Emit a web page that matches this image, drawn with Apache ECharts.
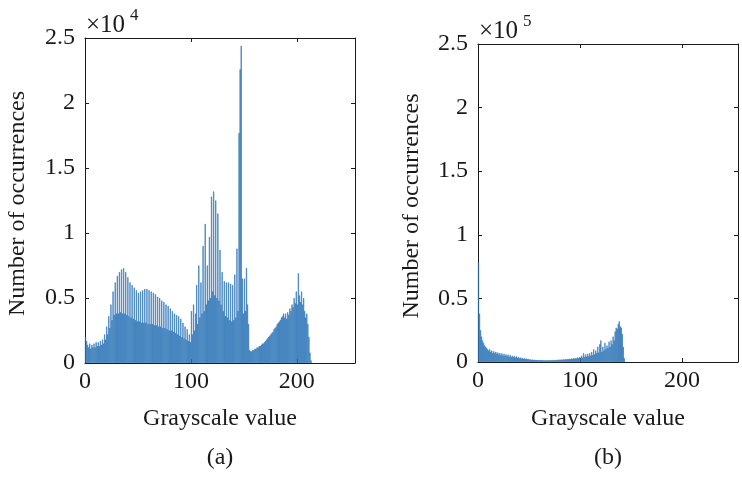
<!DOCTYPE html>
<html>
<head>
<meta charset="utf-8">
<script src="https://cdn.jsdelivr.net/npm/echarts@6/dist/echarts.min.js"></script>
<style>
  html, body { margin: 0; padding: 0; background: #fff; }
  #chart { width: 742px; height: 477px; }
</style>
</head>
<body>
<div id="chart"></div>
<script>
// histogram counts per grayscale bin (bin index = position), in axis units
// (a): x 10^4 occurrences, (b): x 10^5 occurrences
const histA = [
  0.20, 0.17, 0.14, 0.12, 0.15, 0.11, 0.14, 0.12, 0.15, 0.12,
  0.16, 0.13, 0.16, 0.13, 0.17, 0.14, 0.18, 0.15, 0.22, 0.18,
  0.28, 0.22, 0.36, 0.27, 0.45, 0.33, 0.55, 0.37, 0.62, 0.38,
  0.67, 0.38, 0.70, 0.39, 0.72, 0.38, 0.73, 0.38, 0.70, 0.37,
  0.66, 0.36, 0.62, 0.35, 0.60, 0.34, 0.58, 0.33, 0.56, 0.32,
  0.54, 0.32, 0.55, 0.31, 0.56, 0.31, 0.57, 0.31, 0.57, 0.30,
  0.56, 0.30, 0.55, 0.30, 0.54, 0.29, 0.53, 0.29, 0.51, 0.28,
  0.50, 0.28, 0.48, 0.27, 0.47, 0.27, 0.45, 0.26, 0.44, 0.25,
  0.42, 0.25, 0.40, 0.24, 0.38, 0.23, 0.37, 0.22, 0.36, 0.21,
  0.34, 0.20, 0.31, 0.19, 0.28, 0.18, 0.26, 0.17, 0.22, 0.16,
  0.40, 0.22, 0.45, 0.25, 0.38, 0.60, 0.30, 0.75, 0.35, 0.62,
  0.38, 0.90, 0.40, 1.07, 0.45, 0.75, 0.48, 0.97, 0.50, 1.28,
  0.55, 1.32, 0.52, 1.25, 0.50, 1.15, 0.48, 0.87, 0.45, 0.70,
  0.40, 0.63, 0.36, 0.62, 0.35, 0.62, 0.33, 0.61, 0.32, 0.60,
  0.33, 0.68, 0.35, 0.88, 0.40, 1.77, 2.26, 2.44, 0.65, 0.38,
  0.65, 0.40, 0.73, 0.45, 0.30, 0.10, 0.09, 0.09, 0.10, 0.10,
  0.11, 0.11, 0.12, 0.12, 0.13, 0.13, 0.14, 0.15, 0.15, 0.16,
  0.17, 0.18, 0.19, 0.20, 0.21, 0.22, 0.23, 0.24, 0.26, 0.27,
  0.28, 0.30, 0.31, 0.32, 0.33, 0.35, 0.36, 0.38, 0.35, 0.38,
  0.34, 0.39, 0.37, 0.42, 0.40, 0.45, 0.43, 0.50, 0.46, 0.55,
  0.45, 0.69, 0.52, 0.47, 0.55, 0.45, 0.50, 0.40, 0.35, 0.38,
  0.30, 0.20, 0.08, 0.02
];

const histB = [
  0.78, 0.38, 0.25, 0.20, 0.17, 0.15, 0.13, 0.12, 0.11, 0.10,
  0.09, 0.10, 0.08, 0.09, 0.07, 0.085, 0.07, 0.08, 0.065, 0.075,
  0.06, 0.07, 0.055, 0.068, 0.05, 0.065, 0.05, 0.06, 0.045, 0.058,
  0.042, 0.055, 0.04, 0.05, 0.038, 0.048, 0.035, 0.045, 0.032, 0.04,
  0.03, 0.035, 0.028, 0.032, 0.026, 0.03, 0.024, 0.027, 0.022, 0.024,
  0.02, 0.02, 0.018, 0.019, 0.017, 0.018, 0.016, 0.017, 0.015, 0.016,
  0.014, 0.015, 0.014, 0.015, 0.013, 0.014, 0.013, 0.014, 0.013, 0.015,
  0.013, 0.015, 0.014, 0.016, 0.014, 0.017, 0.015, 0.018, 0.016, 0.019,
  0.017, 0.02, 0.018, 0.021, 0.019, 0.022, 0.02, 0.024, 0.021, 0.026,
  0.022, 0.028, 0.024, 0.03, 0.026, 0.032, 0.028, 0.036, 0.03, 0.04,
  0.032, 0.05, 0.035, 0.07, 0.04, 0.06, 0.042, 0.065, 0.045, 0.07,
  0.05, 0.08, 0.055, 0.10, 0.06, 0.09, 0.07, 0.12, 0.075, 0.14,
  0.17, 0.08, 0.12, 0.09, 0.15, 0.10, 0.13, 0.11, 0.16, 0.12,
  0.17, 0.14, 0.20, 0.17, 0.24, 0.27, 0.26, 0.30, 0.32, 0.28,
  0.27, 0.22, 0.12, 0.03
];

const xTicks = [0, 100, 200];
const yTicks = ['0', '0.5', '1', '1.5', '2', '2.5'];
const panelLabels = ['(a)', '(b)'];
const multipliers = ['4', '5'];

const FONT = '"Liberation Serif", "DejaVu Serif", serif';
const INK = '#1a1a1a';
const BAR = '#4b97d6';
const EDGE = '#2268ad';

const chart = echarts.init(document.getElementById('chart'), null, { renderer: 'canvas' });

const grids = [
  { left: 85, top: 38, width: 270, height: 325 },
  { left: 478, top: 44, width: 260, height: 318 }
];

function boxAxis(gridIndex, position, showLabels, isX) {
  return {
    gridIndex: gridIndex,
    type: 'value',
    position: position,
    min: 0,
    max: isX ? 255 : 2.5,
    interval: isX ? 100 : 0.5,
    axisLine: { show: true, onZero: false, lineStyle: { color: INK, width: 1 } },
    axisTick: { show: true, inside: true, length: 4, lineStyle: { color: INK } },
    splitLine: { show: false },
    axisLabel: {
      show: showLabels,
      color: INK,
      fontFamily: FONT,
      fontSize: 24,
      margin: isX ? 7 : 10,
      formatter: v => {
        if (isX) return xTicks.indexOf(v) >= 0 ? String(v) : '';
        return yTicks.indexOf(String(v)) >= 0 ? String(v) : '';
      }
    }
  };
}

function toPairs(arr) {
  return arr.map((v, i) => [i + 0.5, v]);
}

const graphics = [];
const centers = [220, 608];
const yTitleX = [18, 412];
panelLabels.forEach((lab, i) => {
  const g = grids[i];
  graphics.push({
    type: 'text',
    style: { text: 'Grayscale value', font: '24px ' + FONT, fill: INK, textAlign: 'center' },
    x: centers[i], y: 407
  });
  graphics.push({
    type: 'text',
    style: { text: lab, font: '24px ' + FONT, fill: INK, textAlign: 'center' },
    x: centers[i], y: 446
  });
  graphics.push({
    type: 'text',
    style: { text: 'Number of occurrences', font: '24px ' + FONT, fill: INK, textAlign: 'center', textVerticalAlign: 'middle' },
    x: yTitleX[i], y: g.top + g.height / 2 + 3,
    rotation: Math.PI / 2
  });
  graphics.push({
    type: 'text',
    style: { text: '\u00d710', font: '25px ' + FONT, fill: INK, textVerticalAlign: 'middle' },
    x: g.left + 1, y: g.top - 13
  });
  graphics.push({
    type: 'text',
    style: { text: multipliers[i], font: '17px ' + FONT, fill: INK, textVerticalAlign: 'middle' },
    x: g.left + 45, y: g.top - 22
  });
});

function histSeries(xi, data) {
  return {
    type: 'bar', xAxisIndex: xi, yAxisIndex: xi,
    data: toPairs(data),
    barCategoryGap: '0%', barWidth: '100%',
    itemStyle: { color: BAR, borderColor: EDGE, borderWidth: 0.5 }
  };
}

chart.setOption({
  animation: false,
  backgroundColor: '#fff',
  grid: grids,
  xAxis: [
    boxAxis(0, 'bottom', true, true),
    boxAxis(0, 'top', false, true),
    boxAxis(1, 'bottom', true, true),
    boxAxis(1, 'top', false, true)
  ],
  yAxis: [
    boxAxis(0, 'left', true, false),
    boxAxis(0, 'right', false, false),
    boxAxis(1, 'left', true, false),
    boxAxis(1, 'right', false, false)
  ],
  series: [histSeries(0, histA), histSeries(2, histB)],
  graphic: graphics
});
</script>
</body>
</html>
